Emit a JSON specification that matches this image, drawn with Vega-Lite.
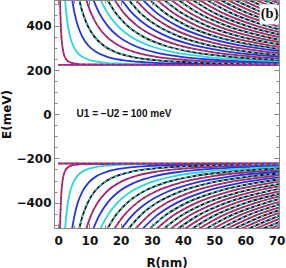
{
"$schema": "https://vega.github.io/schema/vega-lite/v6.json",
"width": 225, "height": 228,
"autosize": {"type": "none"},
"padding": {"left": 54, "top": 0, "right": 7, "bottom": 40},
"background": "white",
"config": {"view": {"stroke": null}, "font": "DejaVu Sans"},
"datasets": {
"curves": [
{"k":0,"b":"u","f":"A","R":0.6,"E":520},{"k":0,"b":"u","f":"A","R":0.7,"E":460},{"k":0,"b":"u","f":"A","R":0.85,"E":400},{"k":0,"b":"u","f":"A","R":1.04,"E":350},{"k":0,"b":"u","f":"A","R":1.31,"E":310},{"k":0,"b":"u","f":"A","R":1.66,"E":280},{"k":0,"b":"u","f":"A","R":2.11,"E":260},{"k":0,"b":"u","f":"A","R":2.78,"E":245},{"k":0,"b":"u","f":"A","R":3.8,"E":235},{"k":0,"b":"u","f":"A","R":5.41,"E":229},{"k":0,"b":"u","f":"A","R":7.68,"E":226},{"k":0,"b":"u","f":"A","R":75,"E":223.1},
{"k":1,"b":"u","f":"C","R":2.2,"E":520},{"k":1,"b":"u","f":"C","R":2.57,"E":460},{"k":1,"b":"u","f":"C","R":3.11,"E":400},{"k":1,"b":"u","f":"C","R":3.83,"E":350},{"k":1,"b":"u","f":"C","R":4.8,"E":310},{"k":1,"b":"u","f":"C","R":6.1,"E":280},{"k":1,"b":"u","f":"C","R":7.73,"E":260},{"k":1,"b":"u","f":"C","R":10.18,"E":245},{"k":1,"b":"u","f":"C","R":13.95,"E":235},{"k":1,"b":"u","f":"C","R":19.84,"E":229},{"k":1,"b":"u","f":"C","R":28.16,"E":226},{"k":1,"b":"u","f":"C","R":75,"E":223.4},
{"k":2,"b":"u","f":"D","R":4.45,"E":520},{"k":2,"b":"u","f":"D","R":5.2,"E":460},{"k":2,"b":"u","f":"D","R":6.29,"E":400},{"k":2,"b":"u","f":"D","R":7.75,"E":350},{"k":2,"b":"u","f":"D","R":9.71,"E":310},{"k":2,"b":"u","f":"D","R":12.35,"E":280},{"k":2,"b":"u","f":"D","R":15.64,"E":260},{"k":2,"b":"u","f":"D","R":20.6,"E":245},{"k":2,"b":"u","f":"D","R":28.21,"E":235},{"k":2,"b":"u","f":"D","R":40.12,"E":229},{"k":2,"b":"u","f":"D","R":56.96,"E":226},{"k":2,"b":"u","f":"D","R":75,"E":224.7},
{"k":3,"b":"u","f":"B","R":6.7,"E":520},{"k":3,"b":"u","f":"B","R":7.82,"E":460},{"k":3,"b":"u","f":"B","R":9.48,"E":400},{"k":3,"b":"u","f":"B","R":11.67,"E":350},{"k":3,"b":"u","f":"B","R":14.62,"E":310},{"k":3,"b":"u","f":"B","R":18.59,"E":280},{"k":3,"b":"u","f":"B","R":23.55,"E":260},{"k":3,"b":"u","f":"B","R":31.01,"E":245},{"k":3,"b":"u","f":"B","R":42.48,"E":235},{"k":3,"b":"u","f":"B","R":60.41,"E":229},{"k":3,"b":"u","f":"B","R":85.76,"E":226},
{"k":4,"b":"u","f":"A","R":8.95,"E":520},{"k":4,"b":"u","f":"A","R":10.45,"E":460},{"k":4,"b":"u","f":"A","R":12.66,"E":400},{"k":4,"b":"u","f":"A","R":15.59,"E":350},{"k":4,"b":"u","f":"A","R":19.53,"E":310},{"k":4,"b":"u","f":"A","R":24.83,"E":280},{"k":4,"b":"u","f":"A","R":31.45,"E":260},{"k":4,"b":"u","f":"A","R":41.43,"E":245},{"k":4,"b":"u","f":"A","R":56.74,"E":235},{"k":4,"b":"u","f":"A","R":80.7,"E":229},
{"k":5,"b":"u","f":"D","R":11.2,"E":520},{"k":5,"b":"u","f":"D","R":13.08,"E":460},{"k":5,"b":"u","f":"D","R":15.84,"E":400},{"k":5,"b":"u","f":"D","R":19.5,"E":350},{"k":5,"b":"u","f":"D","R":24.44,"E":310},{"k":5,"b":"u","f":"D","R":31.08,"E":280},{"k":5,"b":"u","f":"D","R":39.36,"E":260},{"k":5,"b":"u","f":"D","R":51.84,"E":245},{"k":5,"b":"u","f":"D","R":71.01,"E":235},{"k":5,"b":"u","f":"D","R":100.99,"E":229},
{"k":6,"b":"u","f":"C","R":13.45,"E":520},{"k":6,"b":"u","f":"C","R":15.71,"E":460},{"k":6,"b":"u","f":"C","R":19.03,"E":400},{"k":6,"b":"u","f":"C","R":23.42,"E":350},{"k":6,"b":"u","f":"C","R":29.34,"E":310},{"k":6,"b":"u","f":"C","R":37.32,"E":280},{"k":6,"b":"u","f":"C","R":47.26,"E":260},{"k":6,"b":"u","f":"C","R":62.26,"E":245},{"k":6,"b":"u","f":"C","R":85.27,"E":235},
{"k":7,"b":"u","f":"B","R":15.7,"E":520},{"k":7,"b":"u","f":"B","R":18.33,"E":460},{"k":7,"b":"u","f":"B","R":22.21,"E":400},{"k":7,"b":"u","f":"B","R":27.34,"E":350},{"k":7,"b":"u","f":"B","R":34.25,"E":310},{"k":7,"b":"u","f":"B","R":43.56,"E":280},{"k":7,"b":"u","f":"B","R":55.17,"E":260},{"k":7,"b":"u","f":"B","R":72.67,"E":245},{"k":7,"b":"u","f":"B","R":99.5,"E":235},
{"k":8,"b":"u","f":"A","R":17.95,"E":520},{"k":8,"b":"u","f":"A","R":20.96,"E":460},{"k":8,"b":"u","f":"A","R":25.39,"E":400},{"k":8,"b":"u","f":"A","R":31.26,"E":350},{"k":8,"b":"u","f":"A","R":39.16,"E":310},{"k":8,"b":"u","f":"A","R":49.8,"E":280},{"k":8,"b":"u","f":"A","R":63.08,"E":260},{"k":8,"b":"u","f":"A","R":83.09,"E":245},
{"k":9,"b":"u","f":"D","R":20.2,"E":520},{"k":9,"b":"u","f":"D","R":23.59,"E":460},{"k":9,"b":"u","f":"D","R":28.58,"E":400},{"k":9,"b":"u","f":"D","R":35.18,"E":350},{"k":9,"b":"u","f":"D","R":44.07,"E":310},{"k":9,"b":"u","f":"D","R":56.05,"E":280},{"k":9,"b":"u","f":"D","R":70.98,"E":260},{"k":9,"b":"u","f":"D","R":93.5,"E":245},
{"k":10,"b":"u","f":"B","R":22.45,"E":520},{"k":10,"b":"u","f":"B","R":26.22,"E":460},{"k":10,"b":"u","f":"B","R":31.76,"E":400},{"k":10,"b":"u","f":"B","R":39.1,"E":350},{"k":10,"b":"u","f":"B","R":48.98,"E":310},{"k":10,"b":"u","f":"B","R":62.29,"E":280},{"k":10,"b":"u","f":"B","R":78.9,"E":260},
{"k":11,"b":"u","f":"A","R":24.7,"E":520},{"k":11,"b":"u","f":"A","R":28.85,"E":460},{"k":11,"b":"u","f":"A","R":34.94,"E":400},{"k":11,"b":"u","f":"A","R":43.02,"E":350},{"k":11,"b":"u","f":"A","R":53.89,"E":310},{"k":11,"b":"u","f":"A","R":68.53,"E":280},{"k":11,"b":"u","f":"A","R":86.8,"E":260},
{"k":12,"b":"u","f":"D","R":26.95,"E":520},{"k":12,"b":"u","f":"D","R":31.47,"E":460},{"k":12,"b":"u","f":"D","R":38.12,"E":400},{"k":12,"b":"u","f":"D","R":46.93,"E":350},{"k":12,"b":"u","f":"D","R":58.8,"E":310},{"k":12,"b":"u","f":"D","R":74.78,"E":280},{"k":12,"b":"u","f":"D","R":94.71,"E":260},
{"k":13,"b":"u","f":"B","R":29.2,"E":520},{"k":13,"b":"u","f":"B","R":34.1,"E":460},{"k":13,"b":"u","f":"B","R":41.31,"E":400},{"k":13,"b":"u","f":"B","R":50.85,"E":350},{"k":13,"b":"u","f":"B","R":63.71,"E":310},{"k":13,"b":"u","f":"B","R":81.02,"E":280},
{"k":14,"b":"u","f":"A","R":31.45,"E":520},{"k":14,"b":"u","f":"A","R":36.73,"E":460},{"k":14,"b":"u","f":"A","R":44.49,"E":400},{"k":14,"b":"u","f":"A","R":54.77,"E":350},{"k":14,"b":"u","f":"A","R":68.62,"E":310},{"k":14,"b":"u","f":"A","R":87.26,"E":280},
{"k":15,"b":"u","f":"B","R":33.7,"E":520},{"k":15,"b":"u","f":"B","R":39.36,"E":460},{"k":15,"b":"u","f":"B","R":47.67,"E":400},{"k":15,"b":"u","f":"B","R":58.69,"E":350},{"k":15,"b":"u","f":"B","R":73.53,"E":310},{"k":15,"b":"u","f":"B","R":93.5,"E":280},
{"k":16,"b":"u","f":"A","R":35.95,"E":520},{"k":16,"b":"u","f":"A","R":41.98,"E":460},{"k":16,"b":"u","f":"A","R":50.86,"E":400},{"k":16,"b":"u","f":"A","R":62.61,"E":350},{"k":16,"b":"u","f":"A","R":78.43,"E":310},
{"k":17,"b":"u","f":"B","R":38.2,"E":520},{"k":17,"b":"u","f":"B","R":44.61,"E":460},{"k":17,"b":"u","f":"B","R":54.04,"E":400},{"k":17,"b":"u","f":"B","R":66.53,"E":350},{"k":17,"b":"u","f":"B","R":83.34,"E":310},
{"k":18,"b":"u","f":"A","R":40.45,"E":520},{"k":18,"b":"u","f":"A","R":47.24,"E":460},{"k":18,"b":"u","f":"A","R":57.22,"E":400},{"k":18,"b":"u","f":"A","R":70.44,"E":350},{"k":18,"b":"u","f":"A","R":88.25,"E":310},
{"k":19,"b":"u","f":"B","R":42.7,"E":520},{"k":19,"b":"u","f":"B","R":49.87,"E":460},{"k":19,"b":"u","f":"B","R":60.41,"E":400},{"k":19,"b":"u","f":"B","R":74.36,"E":350},{"k":19,"b":"u","f":"B","R":93.16,"E":310},
{"k":20,"b":"u","f":"A","R":44.95,"E":520},{"k":20,"b":"u","f":"A","R":52.5,"E":460},{"k":20,"b":"u","f":"A","R":63.59,"E":400},{"k":20,"b":"u","f":"A","R":78.28,"E":350},
{"k":21,"b":"u","f":"B","R":47.2,"E":520},{"k":21,"b":"u","f":"B","R":55.12,"E":460},{"k":21,"b":"u","f":"B","R":66.77,"E":400},{"k":21,"b":"u","f":"B","R":82.2,"E":350},
{"k":22,"b":"u","f":"A","R":49.45,"E":520},{"k":22,"b":"u","f":"A","R":57.75,"E":460},{"k":22,"b":"u","f":"A","R":69.96,"E":400},{"k":22,"b":"u","f":"A","R":86.12,"E":350},
{"k":23,"b":"u","f":"B","R":51.7,"E":520},{"k":23,"b":"u","f":"B","R":60.38,"E":460},{"k":23,"b":"u","f":"B","R":73.14,"E":400},{"k":23,"b":"u","f":"B","R":90.04,"E":350},
{"k":24,"b":"u","f":"A","R":53.95,"E":520},{"k":24,"b":"u","f":"A","R":63.01,"E":460},{"k":24,"b":"u","f":"A","R":76.32,"E":400},
{"k":25,"b":"u","f":"B","R":56.2,"E":520},{"k":25,"b":"u","f":"B","R":65.63,"E":460},{"k":25,"b":"u","f":"B","R":79.51,"E":400},
{"k":26,"b":"u","f":"A","R":58.45,"E":520},{"k":26,"b":"u","f":"A","R":68.26,"E":460},{"k":26,"b":"u","f":"A","R":82.69,"E":400},
{"k":27,"b":"u","f":"B","R":60.7,"E":520},{"k":27,"b":"u","f":"B","R":70.89,"E":460},{"k":27,"b":"u","f":"B","R":85.87,"E":400},
{"k":28,"b":"u","f":"A","R":62.95,"E":520},{"k":28,"b":"u","f":"A","R":73.52,"E":460},{"k":28,"b":"u","f":"A","R":89.06,"E":400},
{"k":29,"b":"u","f":"B","R":65.2,"E":520},{"k":29,"b":"u","f":"B","R":76.15,"E":460},
{"k":30,"b":"u","f":"A","R":67.45,"E":520},{"k":30,"b":"u","f":"A","R":78.77,"E":460},
{"k":31,"b":"u","f":"B","R":69.7,"E":520},{"k":31,"b":"u","f":"B","R":81.4,"E":460},
{"k":99,"b":"u","f":"A","R":0,"E":223},{"k":99,"b":"u","f":"A","R":75,"E":223},
{"k":0,"b":"l","f":"A","R":0.6,"E":-520},{"k":0,"b":"l","f":"A","R":0.7,"E":-460},{"k":0,"b":"l","f":"A","R":0.85,"E":-400},{"k":0,"b":"l","f":"A","R":1.04,"E":-350},{"k":0,"b":"l","f":"A","R":1.31,"E":-310},{"k":0,"b":"l","f":"A","R":1.66,"E":-280},{"k":0,"b":"l","f":"A","R":2.11,"E":-260},{"k":0,"b":"l","f":"A","R":2.78,"E":-245},{"k":0,"b":"l","f":"A","R":3.8,"E":-235},{"k":0,"b":"l","f":"A","R":5.41,"E":-229},{"k":0,"b":"l","f":"A","R":7.68,"E":-226},{"k":0,"b":"l","f":"A","R":75,"E":-223.1},
{"k":1,"b":"l","f":"C","R":2.2,"E":-520},{"k":1,"b":"l","f":"C","R":2.57,"E":-460},{"k":1,"b":"l","f":"C","R":3.11,"E":-400},{"k":1,"b":"l","f":"C","R":3.83,"E":-350},{"k":1,"b":"l","f":"C","R":4.8,"E":-310},{"k":1,"b":"l","f":"C","R":6.1,"E":-280},{"k":1,"b":"l","f":"C","R":7.73,"E":-260},{"k":1,"b":"l","f":"C","R":10.18,"E":-245},{"k":1,"b":"l","f":"C","R":13.95,"E":-235},{"k":1,"b":"l","f":"C","R":19.84,"E":-229},{"k":1,"b":"l","f":"C","R":28.16,"E":-226},{"k":1,"b":"l","f":"C","R":75,"E":-223.4},
{"k":2,"b":"l","f":"D","R":4.45,"E":-520},{"k":2,"b":"l","f":"D","R":5.2,"E":-460},{"k":2,"b":"l","f":"D","R":6.29,"E":-400},{"k":2,"b":"l","f":"D","R":7.75,"E":-350},{"k":2,"b":"l","f":"D","R":9.71,"E":-310},{"k":2,"b":"l","f":"D","R":12.35,"E":-280},{"k":2,"b":"l","f":"D","R":15.64,"E":-260},{"k":2,"b":"l","f":"D","R":20.6,"E":-245},{"k":2,"b":"l","f":"D","R":28.21,"E":-235},{"k":2,"b":"l","f":"D","R":40.12,"E":-229},{"k":2,"b":"l","f":"D","R":56.96,"E":-226},{"k":2,"b":"l","f":"D","R":75,"E":-224.7},
{"k":3,"b":"l","f":"B","R":6.7,"E":-520},{"k":3,"b":"l","f":"B","R":7.82,"E":-460},{"k":3,"b":"l","f":"B","R":9.48,"E":-400},{"k":3,"b":"l","f":"B","R":11.67,"E":-350},{"k":3,"b":"l","f":"B","R":14.62,"E":-310},{"k":3,"b":"l","f":"B","R":18.59,"E":-280},{"k":3,"b":"l","f":"B","R":23.55,"E":-260},{"k":3,"b":"l","f":"B","R":31.01,"E":-245},{"k":3,"b":"l","f":"B","R":42.48,"E":-235},{"k":3,"b":"l","f":"B","R":60.41,"E":-229},{"k":3,"b":"l","f":"B","R":85.76,"E":-226},
{"k":4,"b":"l","f":"A","R":8.95,"E":-520},{"k":4,"b":"l","f":"A","R":10.45,"E":-460},{"k":4,"b":"l","f":"A","R":12.66,"E":-400},{"k":4,"b":"l","f":"A","R":15.59,"E":-350},{"k":4,"b":"l","f":"A","R":19.53,"E":-310},{"k":4,"b":"l","f":"A","R":24.83,"E":-280},{"k":4,"b":"l","f":"A","R":31.45,"E":-260},{"k":4,"b":"l","f":"A","R":41.43,"E":-245},{"k":4,"b":"l","f":"A","R":56.74,"E":-235},{"k":4,"b":"l","f":"A","R":80.7,"E":-229},
{"k":5,"b":"l","f":"D","R":11.2,"E":-520},{"k":5,"b":"l","f":"D","R":13.08,"E":-460},{"k":5,"b":"l","f":"D","R":15.84,"E":-400},{"k":5,"b":"l","f":"D","R":19.5,"E":-350},{"k":5,"b":"l","f":"D","R":24.44,"E":-310},{"k":5,"b":"l","f":"D","R":31.08,"E":-280},{"k":5,"b":"l","f":"D","R":39.36,"E":-260},{"k":5,"b":"l","f":"D","R":51.84,"E":-245},{"k":5,"b":"l","f":"D","R":71.01,"E":-235},{"k":5,"b":"l","f":"D","R":100.99,"E":-229},
{"k":6,"b":"l","f":"C","R":13.45,"E":-520},{"k":6,"b":"l","f":"C","R":15.71,"E":-460},{"k":6,"b":"l","f":"C","R":19.03,"E":-400},{"k":6,"b":"l","f":"C","R":23.42,"E":-350},{"k":6,"b":"l","f":"C","R":29.34,"E":-310},{"k":6,"b":"l","f":"C","R":37.32,"E":-280},{"k":6,"b":"l","f":"C","R":47.26,"E":-260},{"k":6,"b":"l","f":"C","R":62.26,"E":-245},{"k":6,"b":"l","f":"C","R":85.27,"E":-235},
{"k":7,"b":"l","f":"B","R":15.7,"E":-520},{"k":7,"b":"l","f":"B","R":18.33,"E":-460},{"k":7,"b":"l","f":"B","R":22.21,"E":-400},{"k":7,"b":"l","f":"B","R":27.34,"E":-350},{"k":7,"b":"l","f":"B","R":34.25,"E":-310},{"k":7,"b":"l","f":"B","R":43.56,"E":-280},{"k":7,"b":"l","f":"B","R":55.17,"E":-260},{"k":7,"b":"l","f":"B","R":72.67,"E":-245},{"k":7,"b":"l","f":"B","R":99.5,"E":-235},
{"k":8,"b":"l","f":"A","R":17.95,"E":-520},{"k":8,"b":"l","f":"A","R":20.96,"E":-460},{"k":8,"b":"l","f":"A","R":25.39,"E":-400},{"k":8,"b":"l","f":"A","R":31.26,"E":-350},{"k":8,"b":"l","f":"A","R":39.16,"E":-310},{"k":8,"b":"l","f":"A","R":49.8,"E":-280},{"k":8,"b":"l","f":"A","R":63.08,"E":-260},{"k":8,"b":"l","f":"A","R":83.09,"E":-245},
{"k":9,"b":"l","f":"D","R":20.2,"E":-520},{"k":9,"b":"l","f":"D","R":23.59,"E":-460},{"k":9,"b":"l","f":"D","R":28.58,"E":-400},{"k":9,"b":"l","f":"D","R":35.18,"E":-350},{"k":9,"b":"l","f":"D","R":44.07,"E":-310},{"k":9,"b":"l","f":"D","R":56.05,"E":-280},{"k":9,"b":"l","f":"D","R":70.98,"E":-260},{"k":9,"b":"l","f":"D","R":93.5,"E":-245},
{"k":10,"b":"l","f":"B","R":22.45,"E":-520},{"k":10,"b":"l","f":"B","R":26.22,"E":-460},{"k":10,"b":"l","f":"B","R":31.76,"E":-400},{"k":10,"b":"l","f":"B","R":39.1,"E":-350},{"k":10,"b":"l","f":"B","R":48.98,"E":-310},{"k":10,"b":"l","f":"B","R":62.29,"E":-280},{"k":10,"b":"l","f":"B","R":78.9,"E":-260},
{"k":11,"b":"l","f":"A","R":24.7,"E":-520},{"k":11,"b":"l","f":"A","R":28.85,"E":-460},{"k":11,"b":"l","f":"A","R":34.94,"E":-400},{"k":11,"b":"l","f":"A","R":43.02,"E":-350},{"k":11,"b":"l","f":"A","R":53.89,"E":-310},{"k":11,"b":"l","f":"A","R":68.53,"E":-280},{"k":11,"b":"l","f":"A","R":86.8,"E":-260},
{"k":12,"b":"l","f":"D","R":26.95,"E":-520},{"k":12,"b":"l","f":"D","R":31.47,"E":-460},{"k":12,"b":"l","f":"D","R":38.12,"E":-400},{"k":12,"b":"l","f":"D","R":46.93,"E":-350},{"k":12,"b":"l","f":"D","R":58.8,"E":-310},{"k":12,"b":"l","f":"D","R":74.78,"E":-280},{"k":12,"b":"l","f":"D","R":94.71,"E":-260},
{"k":13,"b":"l","f":"B","R":29.2,"E":-520},{"k":13,"b":"l","f":"B","R":34.1,"E":-460},{"k":13,"b":"l","f":"B","R":41.31,"E":-400},{"k":13,"b":"l","f":"B","R":50.85,"E":-350},{"k":13,"b":"l","f":"B","R":63.71,"E":-310},{"k":13,"b":"l","f":"B","R":81.02,"E":-280},
{"k":14,"b":"l","f":"A","R":31.45,"E":-520},{"k":14,"b":"l","f":"A","R":36.73,"E":-460},{"k":14,"b":"l","f":"A","R":44.49,"E":-400},{"k":14,"b":"l","f":"A","R":54.77,"E":-350},{"k":14,"b":"l","f":"A","R":68.62,"E":-310},{"k":14,"b":"l","f":"A","R":87.26,"E":-280},
{"k":15,"b":"l","f":"B","R":33.7,"E":-520},{"k":15,"b":"l","f":"B","R":39.36,"E":-460},{"k":15,"b":"l","f":"B","R":47.67,"E":-400},{"k":15,"b":"l","f":"B","R":58.69,"E":-350},{"k":15,"b":"l","f":"B","R":73.53,"E":-310},{"k":15,"b":"l","f":"B","R":93.5,"E":-280},
{"k":16,"b":"l","f":"A","R":35.95,"E":-520},{"k":16,"b":"l","f":"A","R":41.98,"E":-460},{"k":16,"b":"l","f":"A","R":50.86,"E":-400},{"k":16,"b":"l","f":"A","R":62.61,"E":-350},{"k":16,"b":"l","f":"A","R":78.43,"E":-310},
{"k":17,"b":"l","f":"B","R":38.2,"E":-520},{"k":17,"b":"l","f":"B","R":44.61,"E":-460},{"k":17,"b":"l","f":"B","R":54.04,"E":-400},{"k":17,"b":"l","f":"B","R":66.53,"E":-350},{"k":17,"b":"l","f":"B","R":83.34,"E":-310},
{"k":18,"b":"l","f":"A","R":40.45,"E":-520},{"k":18,"b":"l","f":"A","R":47.24,"E":-460},{"k":18,"b":"l","f":"A","R":57.22,"E":-400},{"k":18,"b":"l","f":"A","R":70.44,"E":-350},{"k":18,"b":"l","f":"A","R":88.25,"E":-310},
{"k":19,"b":"l","f":"B","R":42.7,"E":-520},{"k":19,"b":"l","f":"B","R":49.87,"E":-460},{"k":19,"b":"l","f":"B","R":60.41,"E":-400},{"k":19,"b":"l","f":"B","R":74.36,"E":-350},{"k":19,"b":"l","f":"B","R":93.16,"E":-310},
{"k":20,"b":"l","f":"A","R":44.95,"E":-520},{"k":20,"b":"l","f":"A","R":52.5,"E":-460},{"k":20,"b":"l","f":"A","R":63.59,"E":-400},{"k":20,"b":"l","f":"A","R":78.28,"E":-350},
{"k":21,"b":"l","f":"B","R":47.2,"E":-520},{"k":21,"b":"l","f":"B","R":55.12,"E":-460},{"k":21,"b":"l","f":"B","R":66.77,"E":-400},{"k":21,"b":"l","f":"B","R":82.2,"E":-350},
{"k":22,"b":"l","f":"A","R":49.45,"E":-520},{"k":22,"b":"l","f":"A","R":57.75,"E":-460},{"k":22,"b":"l","f":"A","R":69.96,"E":-400},{"k":22,"b":"l","f":"A","R":86.12,"E":-350},
{"k":23,"b":"l","f":"B","R":51.7,"E":-520},{"k":23,"b":"l","f":"B","R":60.38,"E":-460},{"k":23,"b":"l","f":"B","R":73.14,"E":-400},{"k":23,"b":"l","f":"B","R":90.04,"E":-350},
{"k":24,"b":"l","f":"A","R":53.95,"E":-520},{"k":24,"b":"l","f":"A","R":63.01,"E":-460},{"k":24,"b":"l","f":"A","R":76.32,"E":-400},
{"k":25,"b":"l","f":"B","R":56.2,"E":-520},{"k":25,"b":"l","f":"B","R":65.63,"E":-460},{"k":25,"b":"l","f":"B","R":79.51,"E":-400},
{"k":26,"b":"l","f":"A","R":58.45,"E":-520},{"k":26,"b":"l","f":"A","R":68.26,"E":-460},{"k":26,"b":"l","f":"A","R":82.69,"E":-400},
{"k":27,"b":"l","f":"B","R":60.7,"E":-520},{"k":27,"b":"l","f":"B","R":70.89,"E":-460},{"k":27,"b":"l","f":"B","R":85.87,"E":-400},
{"k":28,"b":"l","f":"A","R":62.95,"E":-520},{"k":28,"b":"l","f":"A","R":73.52,"E":-460},{"k":28,"b":"l","f":"A","R":89.06,"E":-400},
{"k":29,"b":"l","f":"B","R":65.2,"E":-520},{"k":29,"b":"l","f":"B","R":76.15,"E":-460},
{"k":30,"b":"l","f":"A","R":67.45,"E":-520},{"k":30,"b":"l","f":"A","R":78.77,"E":-460},
{"k":31,"b":"l","f":"B","R":69.7,"E":-520},{"k":31,"b":"l","f":"B","R":81.4,"E":-460},
{"k":99,"b":"l","f":"A","R":0,"E":-223},{"k":99,"b":"l","f":"A","R":75,"E":-223}
],
"note": [{"R":5.9,"E":0,"t":"U1 = −U2 = 100 meV"}],
"lab": [{"R":67.8,"E":452,"t":"(b)"}]
},
"layer": [
{"data": {"name": "curves"},
 "mark": {"type": "line", "interpolate": "monotone", "strokeWidth": 1.8, "clip": true},
 "encoding": {
  "x": {"field": "R", "type": "quantitative", "scale": {"domain": [-1.35, 70.8], "nice": false, "zero": false},
   "axis": {"orient": "bottom", "zindex": 1, "values": [0,5,10,15,20,25,30,35,40,45,50,55,60,65,70], "labelExpr": "datum.value % 10 === 0 ? datum.label : ''",
    "tickSize": {"condition": {"test": "datum.value % 10 === 0", "value": -5}, "value": -3}, "tickColor": "#888", "domainColor": "#888", "grid": false,
    "labelFont": "DejaVu Sans", "labelFontWeight": "bold", "labelFontSize": 12, "labelColor": "#111", "labelPadding": 12, "labelFlush": false,
    "title": "R(nm)", "titleFont": "DejaVu Sans", "titleFontWeight": "bold", "titleFontSize": 12, "titleColor": "#111", "titleY": 38, "titleBaseline": "alphabetic"}},
  "y": {"field": "E", "type": "quantitative", "scale": {"domain": [-515, 517], "nice": false, "zero": false},
   "axis": {"orient": "left", "zindex": 1, "values": [-500,-450,-400,-350,-300,-250,-200,-150,-100,-50,0,50,100,150,200,250,300,350,400,450,500], "labelExpr": "datum.value % 200 === 0 ? datum.label : ''",
    "tickSize": {"condition": {"test": "datum.value % 200 === 0", "value": -5}, "value": -3}, "tickColor": "#888", "domainColor": "#888", "grid": false,
    "labelFont": "DejaVu Sans", "labelFontWeight": "bold", "labelFontSize": 12, "labelColor": "#111", "labelPadding": 8,
    "title": "E(meV)", "titleFont": "DejaVu Sans", "titleFontWeight": "bold", "titleFontSize": 12, "titleColor": "#111", "titleX": -48, "titleBaseline": "middle"}},
  "color": {"field": "f", "type": "nominal", "scale": {"domain": ["A","B","C","D"], "range": ["#ee1c2e","#111111","#2ad8d8","#2233ee"]}, "legend": null},
  "detail": [{"field": "k", "type": "nominal"}, {"field": "b", "type": "nominal"}]
 }},
{"data": {"name": "curves"},
 "transform": [{"filter": {"field": "f", "oneOf": ["A","B"]}}],
 "mark": {"type": "line", "interpolate": "monotone", "strokeWidth": 1.3, "strokeDash": [3,3], "clip": true},
 "encoding": {
  "x": {"field": "R", "type": "quantitative", "axis": null},
  "y": {"field": "E", "type": "quantitative", "axis": null},
  "color": {"field": "f", "type": "nominal", "scale": {"domain": ["A","B"], "range": ["#3344ee","#33dddd"]}, "legend": null},
  "detail": [{"field": "k", "type": "nominal"}, {"field": "b", "type": "nominal"}]
 }},
{"data": {"name": "lab"},
 "mark": {"type": "point", "shape": "square", "filled": true, "color": "white", "opacity": 1, "size": 400},
 "encoding": {"x": {"field": "R", "type": "quantitative", "axis": null}, "y": {"field": "E", "type": "quantitative", "axis": null}}},
{"data": {"name": "lab"},
 "mark": {"type": "text", "font": "Liberation Serif", "fontWeight": "bold", "fontSize": 14.5, "align": "center", "baseline": "middle", "color": "#111"},
 "encoding": {"x": {"field": "R", "type": "quantitative", "axis": null}, "y": {"field": "E", "type": "quantitative", "axis": null}, "text": {"field": "t"}}},
{"data": {"name": "note"},
 "mark": {"type": "text", "font": "Liberation Sans", "fontWeight": "bold", "fontSize": 10, "align": "left", "baseline": "middle", "color": "#111"},
 "encoding": {"x": {"field": "R", "type": "quantitative", "axis": null}, "y": {"field": "E", "type": "quantitative", "axis": null}, "text": {"field": "t"}}},
{"data": {"name": "lab"},
 "mark": {"type": "point", "opacity": 0},
 "encoding": {
  "x": {"field": "R", "type": "quantitative",
   "axis": {"orient": "top", "zindex": 1, "values": [0,5,10,15,20,25,30,35,40,45,50,55,60,65,70], "labels": false, "title": null, "grid": false,
    "tickSize": {"condition": {"test": "datum.value % 10 === 0", "value": -5}, "value": -3}, "tickColor": "#888", "domainColor": "#888"}},
  "y": {"field": "E", "type": "quantitative",
   "axis": {"orient": "right", "zindex": 1, "values": [-500,-450,-400,-350,-300,-250,-200,-150,-100,-50,0,50,100,150,200,250,300,350,400,450,500], "labels": false, "title": null, "grid": false,
    "tickSize": {"condition": {"test": "datum.value % 200 === 0", "value": -5}, "value": -3}, "tickColor": "#888", "domainColor": "#888"}}
 }}
],
"resolve": {"scale": {"color": "independent"}, "axis": {"x": "independent", "y": "independent"}}
}
